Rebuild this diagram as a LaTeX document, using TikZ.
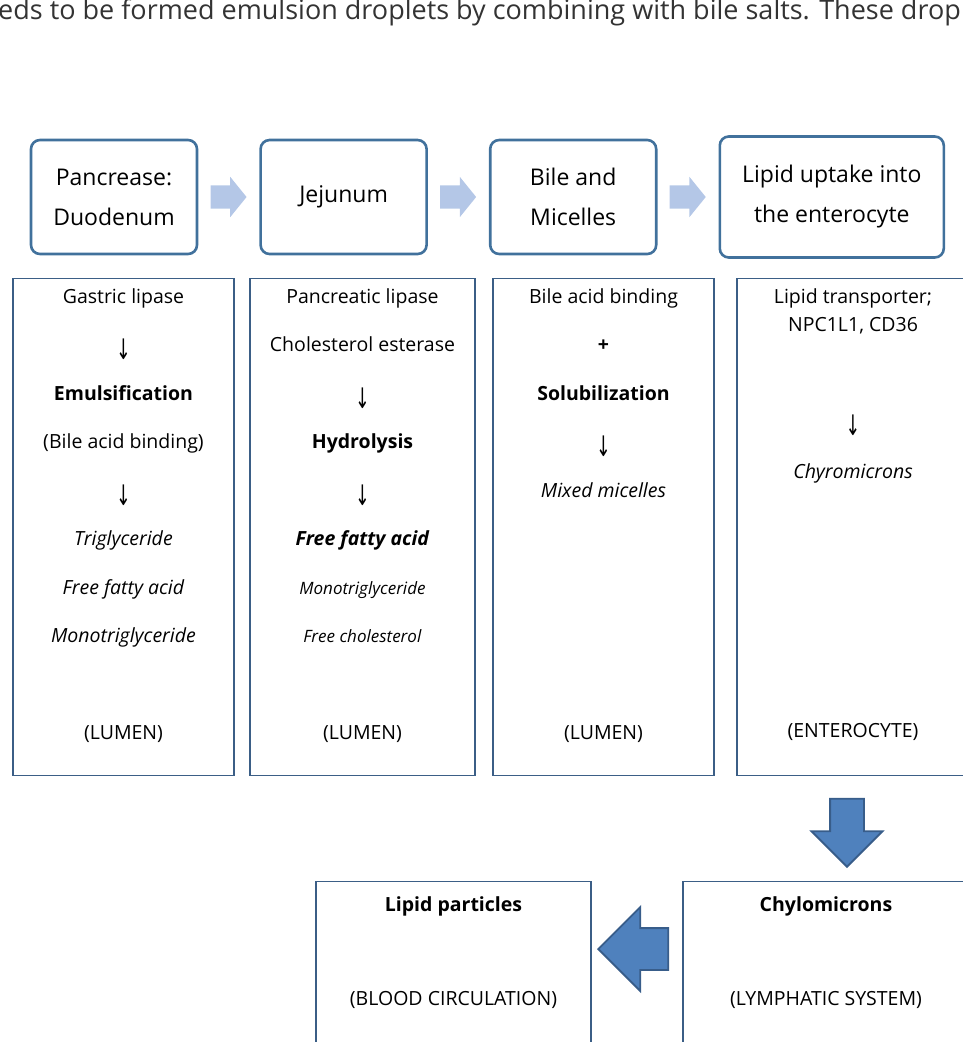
\documentclass[tikz,border=0pt]{standalone}
\usepackage{fontspec}
\setmainfont{Open Sans}
\newfontfamily\symfont{DejaVu Sans}
\usetikzlibrary{positioning, calc, shapes.arrows}

\definecolor{headline}{HTML}{41719C}
\definecolor{palefill}{HTML}{B4C7E7}
\definecolor{flowfill}{HTML}{4F81BD}
\definecolor{flowline}{HTML}{385D8A}
\definecolor{panelline}{HTML}{3B5E86}

\begin{document}
\begin{tikzpicture}[
    x=1pt, y=-1pt,
    node distance=61pt,
    site/.style={rectangle, draw=headline, line width=2.6pt, rounded corners=9pt, minimum width=166pt, minimum height=114pt, align=center, fill=white, font=\fontsize{23}{40}\selectfont},
    panel/.style={rectangle, draw=panelline, line width=1.1pt, minimum height=497pt, anchor=north},
    coltext/.style={anchor=north, inner sep=0pt, align=center, font=\fontsize{19.5}{48.5}\selectfont},
    pale arrow/.style={single arrow, anchor=tip, fill=palefill, draw=none, inner xsep=0pt, inner ysep=11.5pt, minimum height=36pt, single arrow head extend=8.5pt, single arrow tip angle=102},
    big arrow/.style={single arrow, anchor=tip, fill=flowfill, draw=flowline, line width=1.8pt, inner xsep=0pt}
]
\useasboundingbox (0,0) rectangle (963,1042);
\clip (0,0) rectangle (963,1042);

\newcommand{\dn}{\raisebox{-8pt}{\scalebox{0.9}[1.45]{\symfont ↓}}}

% running text above the figure
\node[anchor=base west, inner sep=0pt, font=\fontsize{27}{30}\selectfont, text=black!80] (lead) at (-2,19)
    {eds to be formed emulsion droplets by combining with bile salts. These drop};

% stages
\node[site] (pd) at (114,197) {Pancrease:\\Duodenum};
\node[site, right=of pd] (jj) {Jejunum};
\node[site, right=of jj] (bm) {Bile and\\Micelles};
\node[site, right=of bm, minimum width=224pt, minimum height=121pt] (lu) {Lipid uptake into\\the enterocyte};

\node[pale arrow] (a1) at ($(pd.east)!0.5!(jj.west)+(18,0)$) {};
\node[pale arrow] (a2) at ($(jj.east)!0.5!(bm.west)+(18,0)$) {};
\node[pale arrow] (a3) at ($(bm.east)!0.5!(lu.west)+(18,0)$) {};

% panels
\node[panel, minimum width=221pt] (p1) at (123.5,278) {};
\node[panel, minimum width=225pt] (p2) at (362.5,278) {};
\node[panel, minimum width=221pt] (p3) at (603.5,278) {};
\node[panel, minimum width=232pt] (p4) at (853,278) {};

\node[coltext] (c1) at ($(p1.north)+(0,10)$) {
    Gastric lipase\\ \dn\\ \textbf{Emulsification}\\ (Bile acid binding)\\ \dn\\
    \textit{Triglyceride}\\ \textit{Free fatty acid}\\ \textit{Monotriglyceride}\\ ~\\ (LUMEN)};
\node[coltext] (c2) at ($(p2.north)+(0,10)$) {
    Pancreatic lipase\\ Cholesterol esterase\\ \dn\\ \textbf{Hydrolysis}\\ \dn\\
    \textbf{\textit{Free fatty acid}}\\ {\fontsize{17}{48.5}\selectfont\textit{Monotriglyceride}}\\
    {\fontsize{17}{48.5}\selectfont\textit{Free cholesterol}}\\ ~\\ (LUMEN)};
\node[coltext] (c3) at ($(p3.north)+(0,10)$) {
    Bile acid binding\\ \textbf{+}\\ \textbf{Solubilization}\\ \dn\\ \textit{Mixed micelles}\\
    ~\\ ~\\ ~\\ ~\\ (LUMEN)};
\node[coltext, font=\fontsize{19.5}{28}\selectfont] (c4) at ($(p4.north)+(0,10)$) {Lipid transporter;\\NPC1L1, CD36};
\node[coltext, font=\fontsize{19.5}{51}\selectfont] (c4b) at ($(p4.north)+(0,137)$) {\dn\\ \textit{Chyromicrons}};
\node[font=\fontsize{19.5}{22}\selectfont] (en) at ($(p4.south)+(0,-44)$) {(ENTEROCYTE)};

% transport
\node[panel, minimum width=286pt, minimum height=200pt] (chy) at (826,881) {};
\node[panel, minimum width=275pt, minimum height=200pt] (lp) at (453.5,881) {};
\node[font=\fontsize{19.5}{22}\selectfont\bfseries] (chyt) at ($(chy.north)+(0,25)$) {Chylomicrons};
\node[font=\fontsize{19.5}{22}\selectfont] (chyb) at ($(chy.north)+(0,119)$) {(LYMPHATIC SYSTEM)};
\node[font=\fontsize{19.5}{22}\selectfont\bfseries] (lpt) at ($(lp.north)+(0,25)$) {Lipid particles};
\node[font=\fontsize{19.5}{22}\selectfont] (lpb) at ($(lp.north)+(0,119)$) {(BLOOD CIRCULATION)};

\node[big arrow, rotate=-90, inner ysep=16pt, minimum height=68pt, single arrow head extend=18.5pt] (down) at (847,868) {};
\node[big arrow, rotate=180, inner ysep=20pt, minimum height=70pt, single arrow head extend=21pt] (back) at (597,949) {};

\end{tikzpicture}
\end{document}
